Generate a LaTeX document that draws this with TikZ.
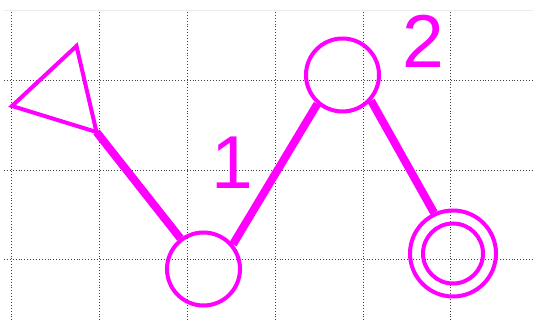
\documentclass[tikz,border=0pt]{standalone}
\usepackage{fontspec}
\setmainfont{Liberation Sans}
\definecolor{mag}{RGB}{255,0,255}
\begin{document}
\begin{tikzpicture}[x=1pt,y=-1pt,
  gridline/.style={dotted,line width=0.9pt,black!75},
  ring/.style={circle,draw=mag,line width=4pt,inner sep=0pt},
  tri/.style={draw=mag,line width=4pt,line join=miter},
  link/.style={draw=mag,line width=8pt},
  numlabel/.style={text=mag,font=\fontsize{75}{75}\selectfont,inner sep=0pt}]
\useasboundingbox (0,0) rectangle (533,320);
% faint top line
\draw[black!8,line width=0.8pt] (4,10) -- (533,10);
% grid
\foreach \x in {11,99.5,187,275.3,363.3,450.7}
  \draw[gridline] (\x,12) -- (\x,320);
\foreach \y in {80,170.7,259.7}
  \draw[gridline] (4,\y) -- (533,\y);
% nodes
\node[ring,minimum size=73pt] (c1) at (203.5,269) {};
\node[ring,minimum size=73pt] (c2) at (342.5,75) {};
\node[ring,minimum size=86pt] (d) at (453,253.5) {};
\node[ring,minimum size=60pt] (din) at (453,253.5) {};
\coordinate (t1) at (76.5,46);
\coordinate (t2) at (12,106);
\coordinate (t3) at (96.5,132);
\draw[tri] (t1) -- (t2) -- (t3) -- cycle;
% links
\draw[link] (t3) -- (c1.127);
\draw[link] (c1.40) -- (c2.229);
\draw[link] (c2.318) -- (d.115);
% labels
\node[numlabel] (l1) at (232,163) {1};
\node[numlabel] (l2) at (423,41) {2};
\end{tikzpicture}
\end{document}
